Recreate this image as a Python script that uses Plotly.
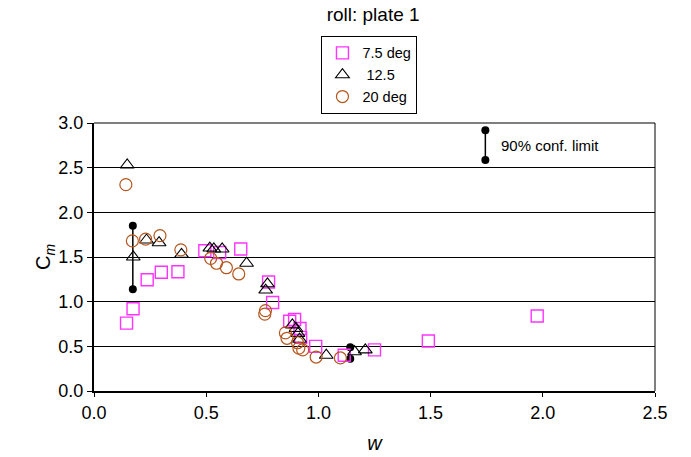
import plotly.graph_objects as go

# 7.5 deg series
w_75 = [0.145, 0.174, 0.237, 0.30, 0.374, 0.494, 0.56, 0.654, 0.778, 0.796,
        0.872, 0.894, 0.918, 0.921, 0.988, 1.115, 1.25, 1.49, 1.975]
cm_75 = [0.76, 0.92, 1.245, 1.33, 1.335, 1.57, 1.55, 1.59, 1.22, 0.99,
         0.78, 0.80, 0.70, 0.60, 0.50, 0.40, 0.46, 0.56, 0.84]

# 12.5 deg series
w_125 = [0.148, 0.175, 0.234, 0.29, 0.39, 0.516, 0.534, 0.571, 0.68, 0.773,
         0.765, 0.884, 0.90, 0.909, 0.916, 1.035, 1.161, 1.209]
cm_125 = [2.53, 1.50, 1.69, 1.66, 1.53, 1.60, 1.59, 1.59, 1.43, 1.20,
          1.13, 0.74, 0.70, 0.645, 0.58, 0.40, 0.44, 0.46]

# 20 deg series
w_20 = [0.142, 0.171, 0.23, 0.294, 0.387, 0.52, 0.546, 0.59, 0.645, 0.764,
        0.761, 0.853, 0.86, 0.907, 0.913, 0.93, 0.99, 1.098]
cm_20 = [2.31, 1.68, 1.70, 1.74, 1.58, 1.485, 1.43, 1.38, 1.31, 0.90,
         0.86, 0.65, 0.59, 0.54, 0.48, 0.46, 0.38, 0.37]

# 90% confidence limits: (w, lower, upper)
conf_w = [0.173, 1.142]
conf_lo = [1.14, 0.36]
conf_hi = [1.85, 0.49]

# key bar for the confidence-limit note
key_w = 1.744
key_lo = 2.586
key_hi = 2.92

x_ticks = [0.0, 0.5, 1.0, 1.5, 2.0, 2.5]
y_ticks = [0.0, 0.5, 1.0, 1.5, 2.0, 2.5, 3.0]

FONT = "Liberation Sans, Arial, sans-serif"

fig = go.Figure()

# confidence bars
for xw, lo, hi in list(zip(conf_w, conf_lo, conf_hi)) + [(key_w, key_lo, key_hi)]:
    fig.add_trace(go.Scatter(
        x=[xw, xw], y=[lo, hi], mode="lines+markers",
        line=dict(color="black", width=1.5),
        marker=dict(symbol="circle", size=8, color="black"),
        showlegend=False, hoverinfo="skip"))

fig.add_trace(go.Scatter(
    x=w_75, y=cm_75, mode="markers", name="7.5 deg",
    marker=dict(symbol="square-open", size=12, color="#FF33FF",
                line=dict(width=1.4))))
fig.add_trace(go.Scatter(
    x=w_125, y=cm_125, mode="markers", name=" 12.5",
    marker=dict(symbol="triangle-up-open", size=12, color="black",
                line=dict(width=1.1))))
fig.add_trace(go.Scatter(
    x=w_20, y=cm_20, mode="markers", name="20 deg",
    marker=dict(symbol="circle-open", size=12, color="#B5561E",
                line=dict(width=1.2))))

fig.add_annotation(x=key_w, y=(key_lo + key_hi) / 2, xref="x", yref="y",
                   text="90% conf. limit", showarrow=False, xanchor="left",
                   xshift=14, font=dict(size=15, color="black", family=FONT))

# outer frame on top and right
fig.add_shape(type="line", xref="paper", yref="paper", x0=1, x1=1, y0=0, y1=1,
              line=dict(color="black", width=1))
fig.add_shape(type="line", xref="paper", yref="paper", x0=0, x1=1, y0=1, y1=1,
              line=dict(color="black", width=1.2))

fig.update_layout(
    width=691, height=457,
    margin=dict(l=94, r=36, t=123, b=66),
    paper_bgcolor="white", plot_bgcolor="white",
    font=dict(family=FONT, color="black", size=18),
    title=dict(text="roll: plate 1", x=0.54, xanchor="center",
               y=0.984, yanchor="top", font=dict(size=19)),
    legend=dict(x=0.491, xanchor="center", y=1.325, yanchor="top",
                bordercolor="black", borderwidth=1, bgcolor="white",
                font=dict(size=14.5), itemwidth=30, tracegroupgap=0),
    xaxis=dict(range=[0, 2.5], tickvals=x_ticks, tickformat=".1f",
               showgrid=False, zeroline=False, showline=True,
               linecolor="black", linewidth=2, ticks="outside",
               ticklen=4, tickcolor="black", automargin=False,
               title=dict(text="<i>w</i>", font=dict(size=20), standoff=14)),
    yaxis=dict(range=[0, 3], tickvals=y_ticks, tickformat=".1f",
               showgrid=True, gridcolor="black", gridwidth=1,
               zeroline=False, showline=True, linecolor="black", linewidth=2,
               ticks="outside", ticklen=5, tickcolor="black", automargin=False,
               title=dict(text="C<sub><i>m</i></sub>", font=dict(size=20),
                          standoff=2)),
)

fig.write_html("out.html")
